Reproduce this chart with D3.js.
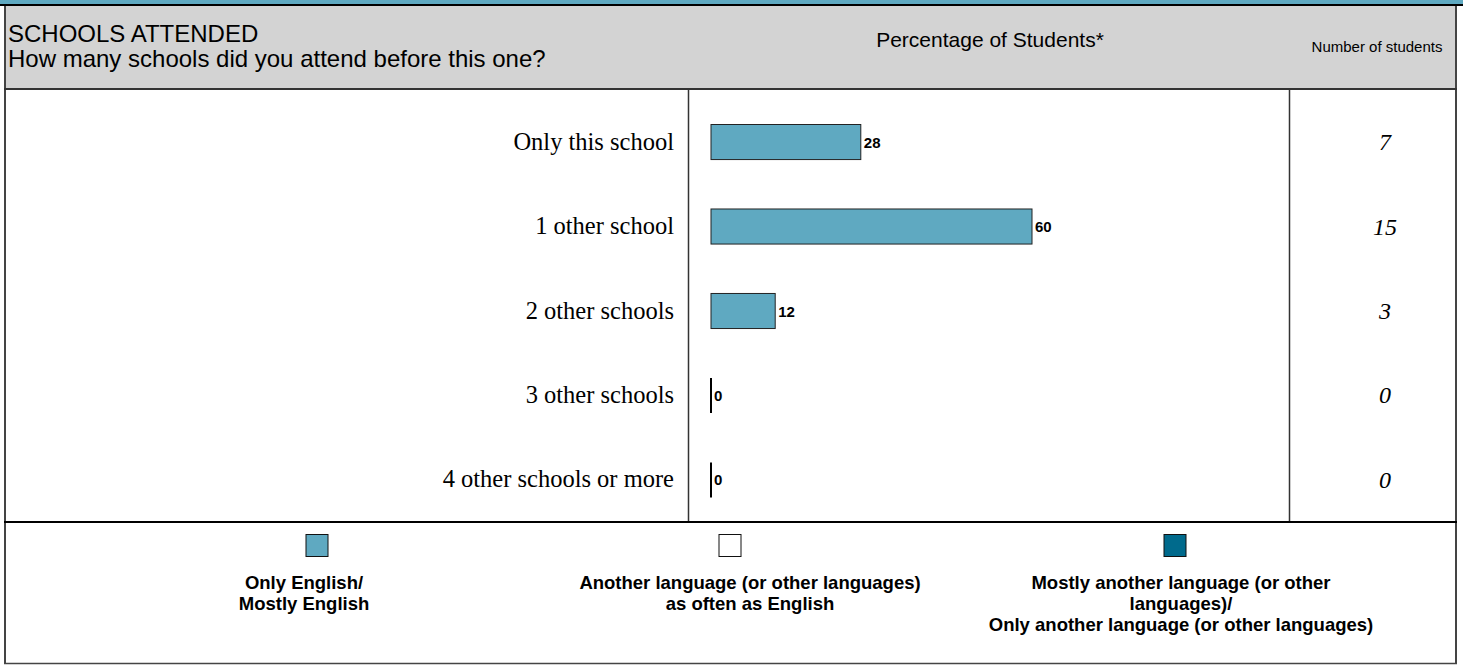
<!DOCTYPE html>
<html><head><meta charset="utf-8">
<script src="https://cdn.jsdelivr.net/npm/d3@7"></script>
<style>html,body{margin:0;padding:0;background:#fff;}svg{display:block;}</style>
</head><body>
<svg id="c" width="1463" height="665"></svg>
<script>
const categories = ["Only this school","1 other school","2 other schools","3 other schools","4 other schools or more"];
const percentages = [28, 60, 12, 0, 0];
const counts = [7, 15, 3, 0, 0];
const legendLabels = [
  ["Only English/","Mostly English"],
  ["Another language (or other languages)","as often as English"],
  ["Mostly another language (or other","languages)/","Only another language (or other languages)"]
];
const legendColors = ["#5fa9c1", "#ffffff", "#006a8c"];
const titleLines = ["SCHOOLS ATTENDED","How many schools did you attend before this one?"];

const svg = d3.select("#c");
const sans = "'Liberation Sans', Arial, sans-serif";
const serif = "'Liberation Serif', 'Times New Roman', serif";

// top band
svg.append("rect").attr("x",0).attr("y",0).attr("width",1463).attr("height",5).attr("fill","#5fa9c1");
svg.append("line").attr("x1",0).attr("x2",1463).attr("y1",5).attr("y2",5).attr("stroke","#000").attr("stroke-width",2);
// header
svg.append("rect").attr("x",4.5).attr("y",6).attr("width",1451.5).attr("height",83).attr("fill","#d3d3d3");
svg.selectAll("text.title").data(titleLines).join("text")
  .attr("x",8).attr("y",(d,i)=>42+i*25).attr("font-family",sans).attr("font-size",24).attr("fill","#000").text(d=>d);
svg.append("text").attr("x",990).attr("y",47).attr("text-anchor","middle").attr("font-family",sans).attr("font-size",21).text("Percentage of Students*");
svg.append("text").attr("x",1377).attr("y",52).attr("text-anchor","middle").attr("font-family",sans).attr("font-size",15).text("Number of students");

// frame lines
svg.append("line").attr("x1",5).attr("x2",5).attr("y1",6).attr("y2",664).attr("stroke","#444").attr("stroke-width",2);
svg.append("line").attr("x1",1456).attr("x2",1456).attr("y1",6).attr("y2",664).attr("stroke","#444").attr("stroke-width",2);
svg.append("line").attr("x1",4).attr("x2",1457).attr("y1",89).attr("y2",89).attr("stroke","#333").attr("stroke-width",2);
svg.append("line").attr("x1",688.5).attr("x2",688.5).attr("y1",89).attr("y2",521).attr("stroke","#333").attr("stroke-width",1.5);
svg.append("line").attr("x1",1289.5).attr("x2",1289.5).attr("y1",89).attr("y2",521).attr("stroke","#333").attr("stroke-width",1.5);
svg.append("line").attr("x1",4).attr("x2",1457).attr("y1",522).attr("y2",522).attr("stroke","#000").attr("stroke-width",2);
svg.append("line").attr("x1",4).attr("x2",1457).attr("y1",663.5).attr("y2",663.5).attr("stroke","#444").attr("stroke-width",1.5);

// scales
const y = d3.scaleBand().domain(categories).range([100, 522]).paddingInner(0.585).paddingOuter(0.29);
const x = d3.scaleLinear().domain([0, 100]).range([711, 1246]);

const rows = svg.append("g");
rows.selectAll("text.cat").data(categories).join("text")
  .attr("x",674).attr("y",d=>y(d)+y.bandwidth()/2+7.5).attr("text-anchor","end")
  .attr("font-family",serif).attr("font-size",24.5).text(d=>d);

rows.selectAll("rect.bar").data(percentages).join("rect")
  .attr("x",x(0)).attr("y",(d,i)=>y(categories[i]))
  .attr("width",d=>Math.max(0,x(d)-x(0))).attr("height",y.bandwidth())
  .attr("fill","#5fa9c1").attr("stroke","#222").attr("stroke-width",1)
  .attr("display",d=>d>0?null:"none");
rows.selectAll("line.zero").data(percentages).join("line")
  .attr("x1",x(0)).attr("x2",x(0)).attr("y1",(d,i)=>y(categories[i])).attr("y2",(d,i)=>y(categories[i])+y.bandwidth())
  .attr("stroke","#000").attr("stroke-width",2).attr("display",d=>d===0?null:"none");
rows.selectAll("text.val").data(percentages).join("text")
  .attr("x",d=>x(d)+3).attr("y",(d,i)=>y(categories[i])+y.bandwidth()/2+5.5)
  .attr("font-family",sans).attr("font-weight","bold").attr("font-size",15).text(d=>d);
rows.selectAll("text.cnt").data(counts).join("text")
  .attr("x",1385).attr("y",(d,i)=>y(categories[i])+y.bandwidth()/2+8).attr("text-anchor","middle")
  .attr("font-family",serif).attr("font-style","italic").attr("font-size",24).text(d=>d);

// legend
const legX = [317, 730, 1175];
const legTextX = [304, 750, 1181];
const lg = svg.append("g");
lg.selectAll("rect").data(legendColors).join("rect")
  .attr("x",(d,i)=>legX[i]-11).attr("y",534.5).attr("width",22).attr("height",22)
  .attr("fill",d=>d).attr("stroke","#111").attr("stroke-width",1);
legendLabels.forEach((lines,i)=>{
  lg.selectAll(null).data(lines).join("text")
    .attr("x",legTextX[i]).attr("y",(d,j)=>589+j*21).attr("text-anchor","middle")
    .attr("font-family",sans).attr("font-weight","bold").attr("font-size",18.5).text(d=>d);
});
</script>
</body></html>
